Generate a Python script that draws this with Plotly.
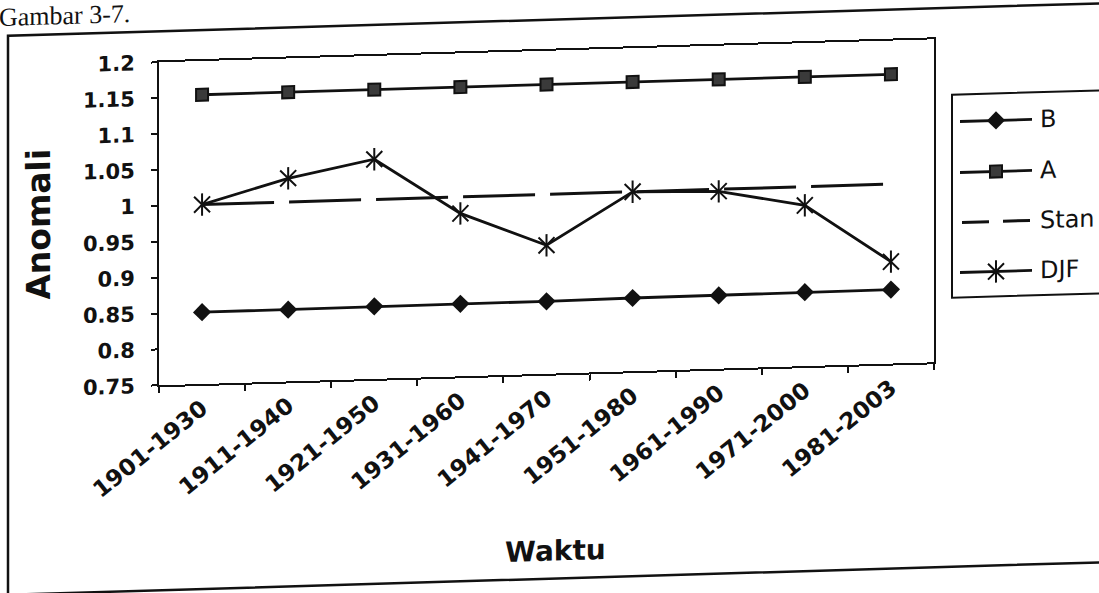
import plotly.graph_objects as go

# ---- data -------------------------------------------------------------
periods = ["1901-1930", "1911-1940", "1921-1950", "1931-1960", "1941-1970",
           "1951-1980", "1961-1990", "1971-2000", "1981-2003"]
b_vals = [0.850, 0.850, 0.851, 0.851, 0.851, 0.852, 0.852, 0.853, 0.853]
a_vals = [1.153, 1.153, 1.153, 1.153, 1.153, 1.153, 1.153, 1.153, 1.153]
stan_vals = [1.0, 1.0, 1.0, 1.0, 1.0, 1.0, 1.0, 1.0, 1.0]
djf_vals = [1.000, 1.033, 1.056, 0.977, 0.929, 1.000, 0.997, 0.974, 0.892]
y_ticks = [0.75, 0.8, 0.85, 0.9, 0.95, 1.0, 1.05, 1.1, 1.15, 1.2]
y_tick_text = ["0.75", "0.8", "0.85", "0.9", "0.95", "1", "1.05", "1.1", "1.15", "1.2"]
legend_names = ["B", "A", "Stan", "DJF"]

# ---- page geometry (pixels) ------------------------------------------
W, H = 1099, 626
ML, MR, MT, MB = 159, 0, 67, 236
PW, PH = W - ML - MR, H - MT - MB
PLOT_RIGHT = 934
main_dom = (PLOT_RIGHT - ML) / PW
LEG_DOM0 = 0.83
leg_x0 = ML + LEG_DOM0 * PW


def px(x):
    return (x - ML) / PW


def py(y):
    return (MT + PH - y) / PH


FONT = "DejaVu Sans"
BLACK = "#111111"

diamond = dict(symbol="diamond", size=14, color=BLACK)
square = dict(symbol="square", size=12, color="#3a3a3a", line=dict(color=BLACK, width=2))
star_x = dict(symbol="x-thin-open", size=16, color=BLACK, line=dict(width=2, color=BLACK))
star_v = dict(symbol="line-ns-open", size=16, color=BLACK, line=dict(width=2, color=BLACK))
solid = dict(color=BLACK, width=2.8)
dashed = dict(color=BLACK, width=3, dash="72px,15px")

fig = go.Figure()

# ---- main series ------------------------------------------------------
fig.add_trace(go.Scatter(x=periods, y=b_vals, mode="lines+markers", name="B",
                         line=solid, marker=diamond))
fig.add_trace(go.Scatter(x=periods, y=a_vals, mode="lines+markers", name="A",
                         line=solid, marker=square))
fig.add_trace(go.Scatter(x=periods, y=stan_vals, mode="lines", name="Stan",
                         line=dashed))
fig.add_trace(go.Scatter(x=periods, y=djf_vals, mode="lines+markers", name="DJF",
                         line=solid, marker=star_x))
fig.add_trace(go.Scatter(x=periods, y=djf_vals, mode="markers", showlegend=False,
                         marker=star_v))

# ---- legend drawn on its own pixel-scaled axes -----------------------
leg_rows = [150, 201, 251, 301]
seg = [960, 1032]
mid = 996
leg_lines = [solid, solid, dict(color=BLACK, width=3, dash="27px,14px"), solid]
leg_marks = [[diamond], [square], [], [star_x, star_v]]
for row, name, ln, marks in zip(leg_rows, legend_names, leg_lines, leg_marks):
    x0 = seg[0] + (2 if name == "Stan" else 0)
    fig.add_trace(go.Scatter(x=[x0, seg[1]], y=[row, row], xaxis="x2", yaxis="y2",
                             mode="lines", line=ln, showlegend=False,
                             hoverinfo="skip"))
    for mk in marks:
        fig.add_trace(go.Scatter(x=[mid], y=[row], xaxis="x2", yaxis="y2",
                                 mode="markers", marker=mk, showlegend=False,
                                 hoverinfo="skip"))
    fig.add_annotation(x=1038, y=row, xref="x2", yref="y2", text=name,
                       showarrow=False, xanchor="left", yanchor="middle",
                       font=dict(family=FONT, size=24, color=BLACK))

fig.add_shape(type="rect", xref="x2", yref="y2", x0=952, x1=1130, y0=123, y1=326,
              line=dict(color=BLACK, width=2))

# ---- outer chart frame and page text ---------------------------------
fig.add_shape(type="rect", xref="paper", yref="paper",
              x0=px(8), x1=px(1130), y0=py(595), y1=py(36),
              line=dict(color=BLACK, width=2.5), layer="below")
fig.add_annotation(x=px(-3), y=py(17), xref="paper", yref="paper",
                   text="Gambar 3-7.", showarrow=False, xanchor="left",
                   yanchor="middle",
                   font=dict(family="Liberation Serif", size=26, color=BLACK))

fig.add_annotation(x=px(38), y=py(226), xref="paper", yref="paper",
                   text="Anomali", textangle=-90, showarrow=False,
                   xanchor="center", yanchor="middle",
                   font=dict(family=FONT, size=33, color=BLACK, weight="bold"))
fig.add_annotation(x=px(555), y=py(567), xref="paper", yref="paper",
                   text="Waktu", showarrow=False,
                   xanchor="center", yanchor="middle",
                   font=dict(family=FONT, size=28, color=BLACK, weight="bold"))

fig.update_layout(
    width=W, height=H,
    margin=dict(l=ML, r=MR, t=MT, b=MB, pad=0),
    paper_bgcolor="white", plot_bgcolor="white",
    showlegend=False,
    xaxis=dict(domain=[0, main_dom], type="category", range=[-0.5, 8.5],
               showline=True, linecolor=BLACK, linewidth=2, mirror=True,
               ticks="outside", ticklen=6, tickwidth=1.5, tickcolor=BLACK,
               tickson="boundaries", showgrid=False, zeroline=False,
               tickangle=-38,
               tickfont=dict(family=FONT, size=23, color=BLACK, weight="bold")),
    yaxis=dict(range=[0.75, 1.2], tickvals=y_ticks, ticktext=y_tick_text,
               showline=True, linecolor=BLACK, linewidth=2, mirror=True,
               ticks="outside", ticklen=6, tickwidth=1.5, tickcolor=BLACK,
               ticklabelstandoff=12, showgrid=False, zeroline=False,
               tickfont=dict(family=FONT, size=21, color=BLACK, weight="bold")),
    xaxis2=dict(domain=[LEG_DOM0, 1], range=[leg_x0, W], visible=False,
                anchor="y2", fixedrange=True),
    yaxis2=dict(domain=[0, 1], range=[MT + PH, MT], visible=False,
                anchor="x2", overlaying="y", fixedrange=True),
)

# the printed figure sits on a slightly sheared page
post = ("var d=document.getElementById('{plot_id}');"
        "d.style.transformOrigin='0 0';"
        "d.style.transform='skewY(-1.7deg)';"
        "document.body.style.margin='0';"
        "document.body.style.overflow='hidden';")
fig.write_html("out.html", post_script=post)
